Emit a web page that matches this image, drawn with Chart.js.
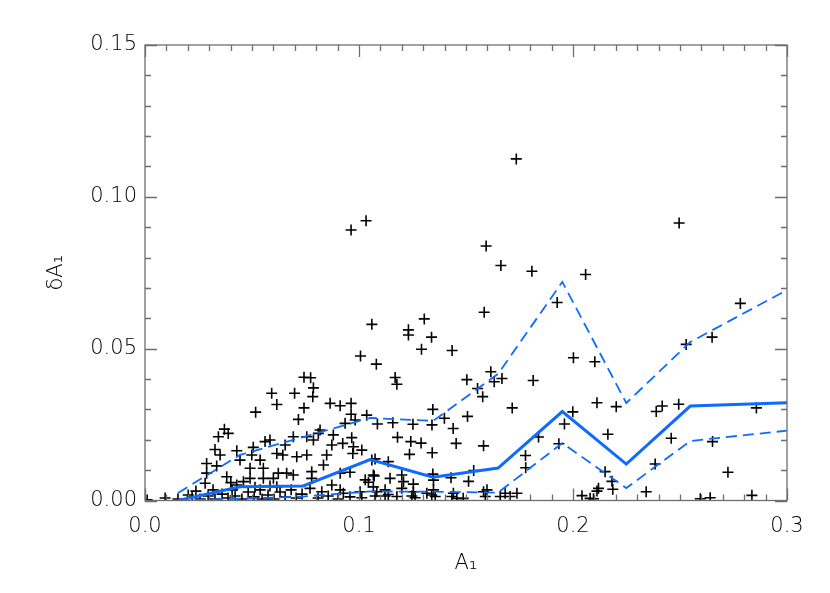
<!DOCTYPE html>
<html>
<head>
<meta charset="utf-8">
<script src="https://cdn.jsdelivr.net/npm/chart.js@4"></script>
<style>
  body { margin: 0; background: #fff; }
</style>
</head>
<body>
<canvas id="grafico" width="830" height="593"></canvas>
<script>
// bin centres and the running median / spread curves
var binX   = [0.0154, 0.0444, 0.0739, 0.1052, 0.1346, 0.1650, 0.1950, 0.2249, 0.2548, 0.3000];
var median = [0.0000, 0.0045, 0.0048, 0.0135, 0.0077, 0.0107, 0.0293, 0.0120, 0.0311, 0.0322];
var upper  = [0.0025, 0.0150, 0.0209, 0.0272, 0.0262, 0.0417, 0.0720, 0.0321, 0.0522, 0.0693];
var lower  = [0.0000, 0.0006, 0.0013, 0.0030, 0.0029, 0.0026, 0.0189, 0.0041, 0.0196, 0.0230];

// measured points (A1, dA1)
var pontosX = [
  0.1735,0.2496,0.0963,0.1033,0.1594,0.1663,0.1808,0.2059,0.1060,0.1231,0.1231,0.1305,0.1339,0.1292,0.1435,0.1585,0.1007,0.1081,0.1926,0.2002,0.2102,0.2782,0.2529,0.2650,
  0.1616,0.1504,0.1632,0.1668,0.1814,0.1554,0.1578,0.1169,0.1177,0.1345,0.1716,0.1999,0.2112,0.1399,0.1507,0.1341,0.1960,0.1440,0.1839,0.1290,0.1454,0.1582,0.1342,0.1934,
  0.1778,0.1779,0.1536,0.1348,0.1430,0.1512,0.1348,0.1598,0.1441,0.1457,0.1487,0.1590,0.1660,0.1683,0.1706,0.1738,0.2042,0.2080,0.2112,0.1356,0.2150,0.2119,0.1236,0.1180,
  0.1242,0.1086,0.1158,0.1252,0.1345,0.1071,0.1145,0.1200,0.1208,0.1254,0.1067,0.1122,0.1200,0.1434,0.1582,0.1075,0.1122,0.1177,0.1247,0.1340,
  0.2202,0.2389,0.2417,0.2494,0.2857,0.2163,0.2459,0.2652,0.2384,0.2724,0.2182,0.2186,0.2342,0.2595,0.2641,0.2836,0.2096,
  0.0743,0.0774,0.0787,0.0784,0.0743,0.0865,0.0912,0.0963,0.0963,0.0935,0.0982,0.1036,0.0818,0.0810,0.0756,0.0787,0.0880,0.0924,0.0966,0.0974,0.0971,0.1013,0.0756,0.0849,
  0.0873,0.0834,0.0779,0.0779,0.0912,0.0958,0.1060,0.1075,0.1137,0.1067,0.1029,0.1044,0.0873,0.0771,0.0826,0.0927,0.1005,0.1013,0.1083,0.1137,0.1254,0.1262,0.1317,
  0.0592,0.0616,0.0699,0.0517,0.0717,0.0371,0.0389,0.0343,0.0327,0.0351,0.0429,0.0288,0.0335,0.0288,0.0281,0.0202,0.0382,0.0401,0.0444,0.0499,0.0506,0.0561,0.0584,0.0616,
  0.0644,0.0693,0.0709,0.0538,0.0491,0.0553,0.0623,0.0662,0.0693,0.0460,0.0553,0.0600,0.0429,0.0912,0.0616,0.0655,0.0491,
  0.0094,0.0154,0.0220,0.0257,0.0295,0.0327,0.0360,0.0388,0.0421,0.0453,0.0482,0.0510,0.0538,0.0547,0.0575,0.0603,0.0631,0.0655,0.0683,0.0706,0.0734,0.0809,0.0856,0.0902,
  0.0958,0.0514,0.0584,0.0407,0.0318,0.0238,0.0010
];
var pontosY = [
  0.1125,0.0914,0.0891,0.0921,0.0838,0.0774,0.0755,0.0744,0.0580,0.0562,0.0545,0.0598,0.0538,0.0498,0.0494,0.0620,0.0476,0.0449,0.0652,0.0470,0.0457,0.0649,0.0514,0.0538,
  0.0424,0.0398,0.0391,0.0402,0.0395,0.0369,0.0342,0.0405,0.0383,0.0300,0.0305,0.0292,0.0322,0.0271,0.0277,0.0249,0.0252,0.0237,0.0209,0.0189,0.0188,0.0180,0.0157,0.0187,
  0.0148,0.0108,0.0099,0.0067,0.0075,0.0063,0.0035,0.0035,0.0024,0.0007,0.0007,0.0013,0.0013,0.0024,0.0013,0.0024,0.0016,0.0007,0.0031,0.0013,0.0095,0.0040,0.0152,0.0208,
  0.0194,0.0252,0.0256,0.0251,0.0087,0.0081,0.0073,0.0084,0.0062,0.0054,0.0045,0.0035,0.0040,0.0013,0.0029,0.0015,0.0015,0.0013,0.0015,0.0018,
  0.0309,0.0293,0.0311,0.0317,0.0305,0.0218,0.0205,0.0194,0.0120,0.0093,0.0063,0.0037,0.0029,0.0006,0.0009,0.0017,0.0006,
  0.0406,0.0404,0.0371,0.0342,0.0305,0.0320,0.0312,0.0320,0.0284,0.0254,0.0265,0.0281,0.0232,0.0221,0.0210,0.0199,0.0216,0.0188,0.0207,0.0177,0.0155,0.0166,0.0150,0.0150,
  0.0183,0.0117,0.0095,0.0073,0.0090,0.0093,0.0133,0.0137,0.0128,0.0084,0.0068,0.0060,0.0051,0.0040,0.0029,0.0024,0.0029,0.0009,0.0029,0.0020,0.0029,0.0009,0.0024,
  0.0353,0.0316,0.0353,0.0291,0.0267,0.0235,0.0221,0.0210,0.0168,0.0150,0.0164,0.0122,0.0114,0.0090,0.0057,0.0018,0.0078,0.0059,0.0133,0.0150,0.0175,0.0194,0.0199,0.0155,
  0.0150,0.0210,0.0144,0.0133,0.0106,0.0106,0.0090,0.0090,0.0084,0.0062,0.0073,0.0073,0.0051,0.0035,0.0045,0.0183,0.0073,
  0.0008,0.0005,0.0012,0.0005,0.0015,0.0005,0.0021,0.0008,0.0015,0.0005,0.0028,0.0012,0.0035,0.0005,0.0018,0.0005,0.0028,0.0012,0.0035,0.0008,0.0021,0.0008,0.0015,0.0005,
  0.0012,0.0044,0.0048,0.0035,0.0035,0.0031,0.0002
];

var xTickLabels = ['0.0', '0.1', '0.2', '0.3'];
var yTickLabels = ['0.00', '0.05', '0.10', '0.15'];

var azul = '#0f6bff';
var fonte = { family: 'DejaVu Sans', size: 21, weight: 300 };

function pares(xs, ys) {
    var out = [];
    for (let i = 0; i < xs.length; i++) out.push({ x: xs[i], y: ys[i] });
    return out;
}

// box with inward major/minor ticks on all four sides
var moldura = {
    id: 'moldura',
    afterDatasetsDraw: function (chart) {
        var ctx = chart.ctx, a = chart.chartArea, sx = chart.scales.x, sy = chart.scales.y;
        ctx.save();
        ctx.strokeStyle = '#6e6e6e';
        ctx.lineWidth = 1.3;
        ctx.strokeRect(a.left, a.top, a.right - a.left, a.bottom - a.top);
        ctx.beginPath();
        for (let i = 0; i <= 30; i++) {
            var px = Math.round(sx.getPixelForValue(i / 100)) + 0.5;
            var len = i % 10 === 0 ? 12 : 6;
            ctx.moveTo(px, a.bottom); ctx.lineTo(px, a.bottom - len);
            ctx.moveTo(px, a.top); ctx.lineTo(px, a.top + len);
        }
        for (let i = 0; i <= 15; i++) {
            var py = Math.round(sy.getPixelForValue(i / 100)) + 0.5;
            var len2 = i % 5 === 0 ? 12 : 6;
            ctx.moveTo(a.left, py); ctx.lineTo(a.left + len2, py);
            ctx.moveTo(a.right, py); ctx.lineTo(a.right - len2, py);
        }
        ctx.stroke();
        ctx.restore();
    }
};

var canvas = document.getElementById('grafico');
var grafico = new Chart(canvas, {
    type: 'scatter',
    data: {
        datasets: [{
            data: pares(binX, median),
            showLine: true,
            borderColor: azul,
            borderWidth: 3,
            pointRadius: 0,
            clip: 0
        }, {
            data: pares(binX, upper),
            showLine: true,
            borderColor: azul,
            borderWidth: 1.8,
            borderDash: [11, 6],
            pointRadius: 0,
            clip: 0
        }, {
            data: pares(binX, lower),
            showLine: true,
            borderColor: azul,
            borderWidth: 1.8,
            borderDash: [11, 6],
            pointRadius: 0,
            clip: 0
        }, {
            data: pares(pontosX, pontosY),
            pointStyle: 'cross',
            pointRadius: 5.5,
            borderColor: '#000',
            borderWidth: 1.6,
            clip: 0
        }]
    },
    options: {
        responsive: false,
        animation: false,
        layout: { padding: { top: 45, right: 43, left: 0, bottom: 0 } },
        plugins: {
            legend: { display: false },
            tooltip: { enabled: false }
        },
        scales: {
            x: {
                type: 'linear',
                min: 0, max: 0.3,
                afterFit: function (s) { s.height = 92.5; },
                grid: { display: false, drawTicks: false },
                border: { display: false },
                ticks: {
                    stepSize: 0.1,
                    padding: 13,
                    color: '#000',
                    font: fonte,
                    maxRotation: 0,
                    callback: function (v, i) { return xTickLabels[i]; }
                },
                title: {
                    display: true,
                    text: 'A\u2081',
                    color: '#000',
                    font: fonte,
                    padding: { top: 0, bottom: 17 }
                }
            },
            y: {
                type: 'linear',
                min: 0, max: 0.15,
                afterFit: function (s) { s.width = 145; },
                grid: { display: false, drawTicks: false },
                border: { display: false },
                ticks: {
                    stepSize: 0.05,
                    padding: 8,
                    color: '#000',
                    font: fonte,
                    callback: function (v, i) { return yTickLabels[i]; }
                },
                title: {
                    display: true,
                    text: '\u03b4A\u2081',
                    color: '#000',
                    font: fonte,
                    padding: { top: 44, bottom: 0 }
                }
            }
        }
    },
    plugins: [moldura]
});
</script>
</body>
</html>
